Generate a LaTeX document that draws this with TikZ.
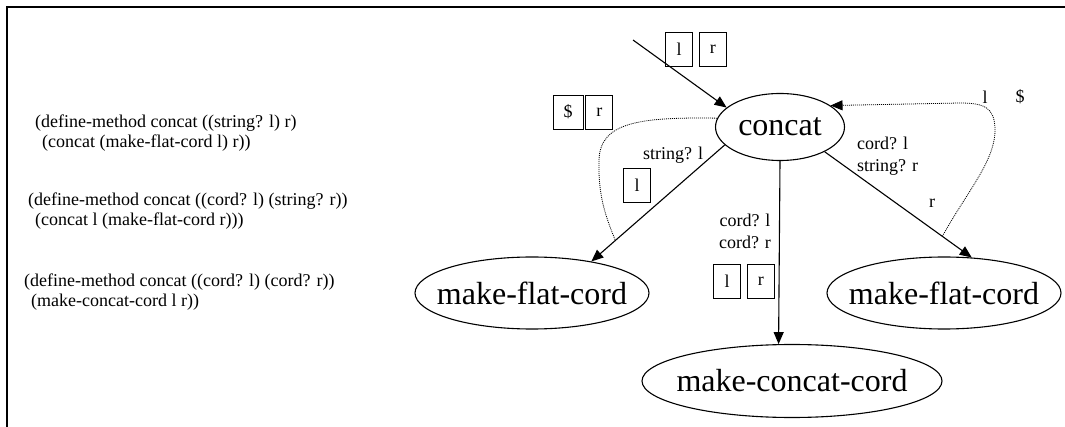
\documentclass[tikz,border=0pt]{standalone}
\usepackage{fontspec}
\setmainfont{Liberation Serif}
\usetikzlibrary{
  arrows.meta,
  positioning,
  shapes.geometric
}
\tikzset{
  fn/.style={
    ellipse,
    draw,
    line width=1.1pt,
    inner xsep=-15pt,
    inner ysep=0pt,
    font=\fontsize{32}{36}\selectfont},
  tag/.style={
    draw,
    line width=0.8pt,
    minimum width=27pt,
    minimum height=34pt,
    inner sep=0pt,
    font=\fontsize{18}{20}\selectfont},
  lbl/.style={
    inner sep=0pt,
    font=\fontsize{18}{22}\selectfont},
  code/.style={
    anchor=west,
    align=left,
    inner sep=0pt,
    font=\fontsize{18}{20}\selectfont},
  call/.style={
    -{Triangle[length=12pt,width=10pt]},
    line width=1.1pt},
  dots/.style={
    line width=0.8pt,
    dash pattern=on 1pt off 1pt},
  recur/.style={
    dots,
    -{Triangle[length=12pt,width=10pt]}}
}

\begin{document}
\begin{tikzpicture}[x=1pt,y=-1pt]
  \useasboundingbox (0,0) rectangle (1065,427);
  \draw [line width=2pt] (1065,7) -- (7,7) -- (7,427);

  \node[code] (m1) at (35,133) {(define-method concat ((string? l) r)\\\hspace*{7pt}(concat (make-flat-cord l) r))};
  \node[code] (m2) at (28,211) {(define-method concat ((cord? l) (string? r))\\\hspace*{7pt}(concat l (make-flat-cord r)))};
  \node[code] (m3) at (24,292) {(define-method concat ((cord? l) (cord? r))\\\hspace*{7pt}(make-concat-cord l r))};

  \node[fn, minimum width=129pt, minimum height=67pt] (concat) at (780,127) {concat};
  \node[fn, minimum width=234pt, minimum height=72pt] (mfcL) at (532,293) {make-flat-cord};
  \node[fn, minimum width=234pt, minimum height=72pt] (mfcR) at (944,293) {make-flat-cord};
  \node[fn, minimum width=300pt, minimum height=73pt] (mcc) at (792,381) {make-concat-cord};
  \coordinate (src) at (633,40);

  \draw [call]
    (src) -- (concat.160);
  \draw [call]
    (concat.198) -- (mfcL.28) coordinate[pos=0.82] (hitL);
  \draw [call]
    (concat.south) -- (mcc.110);
  \draw [call]
    (concat.331) -- (mfcR.52) coordinate[pos=0.8] (hitR);

  \draw [dots] (concat.172) .. controls (640,117) and (600,122) .. (599,160)
    .. controls (598,195) and (605,215) .. (hitL);
  \draw [recur] (hitR) .. controls (968,190) and (996,160) .. (995,128)
    .. controls (994,108) and (985,103) .. (960,103) -- (concat.23);

  \node[tag] (inL) at (679,49) {l};
  \node[tag, right=6pt of inL] (inR) {r};
  \node[tag, minimum width=30pt] (accS) at (568,112) {\$};
  \node[tag, right=2pt of accS] (accR) {r};
  \node[tag] (strL) at (637,185) {l};
  \node[tag] (catL) at (727,281) {l};
  \node[tag, right=6pt of catL] (catR) {r};

  \node[lbl] (gStr) at (673,155) {string? l};
  \node[lbl, align=center] (gCord) at (745,231) {cord? l\\cord? r};
  \node[lbl, align=left, anchor=west] (gMix) at (857,156) {cord? l\\string? r};
  \node[lbl] (outR) at (932,203) {r};
  \node[lbl] (accL) at (985,97) {l};
  \node[lbl] (accD) at (1020,97) {\$};
\end{tikzpicture}
\end{document}
